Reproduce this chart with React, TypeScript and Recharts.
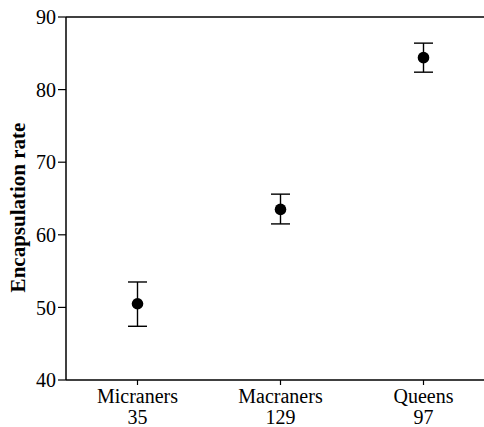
import React from "react"
import {
  ComposedChart,
  Scatter,
  ErrorBar,
  XAxis,
  YAxis,
  Label,
  ReferenceLine,
} from "recharts"

const categories = ["Micraners", "Macraners", "Queens"]
const sampleSizes = [35, 129, 97]
const means = [50.5, 63.5, 84.4]
const lower = [47.4, 61.5, 82.4]
const upper = [53.5, 65.6, 86.4]
const yTicks = [40, 50, 60, 70, 80, 90]
const xTicks = [1, 2, 3]

const data = categories.map((name, i) => ({
  pos: xTicks[i],
  name,
  n: sampleSizes[i],
  mean: means[i],
  err: [means[i] - lower[i], upper[i] - means[i]],
}))

const FONT = "'Liberation Serif', 'Times New Roman', serif"

const CategoryTick = (props: any) => {
  const { x, y, payload } = props
  const i = xTicks.indexOf(payload.value)
  return (
    <g transform={`translate(${x},${y})`}>
      <text textAnchor="middle" fontFamily={FONT} fontSize={20} fill="#000">
        <tspan x={0} y={15.5}>
          {categories[i]}
        </tspan>
        <tspan x={0} y={37}>
          {sampleSizes[i]}
        </tspan>
      </text>
    </g>
  )
}

const YTitle = () => (
  <text
    x={25}
    y={207.5}
    transform="rotate(-90, 25, 207.5)"
    textAnchor="middle"
    fontFamily={FONT}
    fontSize={21}
    fontWeight="bold"
    fill="#000"
  >
    Encapsulation rate
  </text>
)

const Dot = (props: any) => <circle cx={props.cx} cy={props.cy} r={5.8} fill="#000" />

export default function App() {
  return (
    <div
      style={{
        position: "absolute",
        top: 0,
        left: 0,
        width: 484,
        height: 427,
        overflow: "hidden",
      }}
    >
      <ComposedChart
        width={497}
        height={427}
        data={data}
        margin={{ top: 17, right: 2, bottom: 0, left: 8 }}
      >
        <XAxis
          dataKey="pos"
          type="number"
          domain={[0.5, 3.5]}
          ticks={xTicks}
          height={47}
          tick={<CategoryTick />}
          tickSize={5}
          tickMargin={2}
          interval={0}
          axisLine={{ stroke: "#000", strokeWidth: 1.5 }}
          tickLine={{ stroke: "#000", strokeWidth: 1.2 }}
        />
        <YAxis
          type="number"
          domain={[40, 90]}
          ticks={yTicks}
          width={58}
          tickSize={8}
          tickMargin={2}
          tick={{ fontFamily: FONT, fontSize: 20, fill: "#000" }}
          axisLine={{ stroke: "#000", strokeWidth: 1.5 }}
          tickLine={{ stroke: "#000", strokeWidth: 1.2 }}
        >
          <Label content={<YTitle />} />
        </YAxis>
        <ReferenceLine y={90} stroke="#000" strokeWidth={1.5} />
        <Scatter dataKey="mean" shape={<Dot />} isAnimationActive={false}>
          <ErrorBar
            dataKey="err"
            direction="y"
            width={9.5}
            stroke="#000"
            strokeWidth={1.4}
            isAnimationActive={false}
          />
        </Scatter>
      </ComposedChart>
    </div>
  )
}
